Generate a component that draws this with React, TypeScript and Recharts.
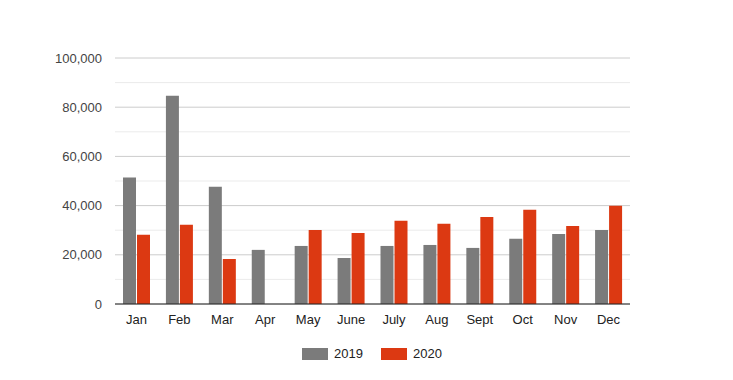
import React from 'react';
import { BarChart, Bar, XAxis, YAxis, CartesianGrid, Legend } from 'recharts';

const months = ['Jan', 'Feb', 'Mar', 'Apr', 'May', 'June', 'July', 'Aug', 'Sept', 'Oct', 'Nov', 'Dec'];
const values2019 = [51400, 84700, 47700, 22000, 23600, 18700, 23600, 24000, 22800, 26500, 28500, 30100];
const values2020 = [28100, 32200, 18300, 0, 30100, 28900, 33800, 32600, 35400, 38300, 31700, 39900];
const majorTicks = [0, 20000, 40000, 60000, 80000, 100000];
const minorTicks = [10000, 30000, 50000, 70000, 90000];

const COLOR_2019 = '#7b7b7b';
const COLOR_2020 = '#dc3912';

const data = months.map((m, i) => ({ month: m, y2019: values2019[i], y2020: values2020[i] }));

const fmt = (v: number) => v.toLocaleString('en-US');

const LegendContent = () => (
  <div style={{ display: 'flex', justifyContent: 'center', paddingLeft: 11, fontFamily: 'Arial, "Liberation Sans", sans-serif', fontSize: 13, color: '#222' }}>
    {[{ label: '2019', color: COLOR_2019 }, { label: '2020', color: COLOR_2020 }].map((it, i) => (
      <div key={it.label} style={{ display: 'flex', alignItems: 'center', marginLeft: i === 0 ? 0 : 18 }}>
        <div style={{ width: 26, height: 12, background: it.color, marginRight: 6 }} />
        <span>{it.label}</span>
      </div>
    ))}
  </div>
);

export default function App() {
  return (
    <div style={{ position: 'absolute', left: 0, top: 0, width: 733, height: 380, background: '#fff' }}>
      <BarChart
        width={733}
        height={380}
        data={data}
        margin={{ top: 58, right: 103, bottom: 24, left: 0 }}
        barGap={1}
        barSize={13}
      >
        <CartesianGrid vertical={false} stroke="#ebebeb" horizontalValues={minorTicks} />
        <CartesianGrid vertical={false} stroke="#cccccc" horizontalValues={majorTicks} />
        <XAxis
          dataKey="month"
          axisLine={{ stroke: '#222222' }}
          tickLine={false}
          tick={{ fill: '#222222', fontSize: 13, fontFamily: 'Arial, "Liberation Sans", sans-serif' }}
          tickMargin={5}
          height={30}
        />
        <YAxis
          width={115}
          domain={[0, 100000]}
          ticks={majorTicks}
          tickFormatter={fmt}
          axisLine={false}
          tickLine={false}
          tickMargin={7}
          tick={{ fill: '#444444', fontSize: 13, fontFamily: 'Arial, "Liberation Sans", sans-serif' }}
        />
        <Legend
          verticalAlign="bottom"
          height={22}
          content={<LegendContent />}
          wrapperStyle={{ left: 0, width: 733, bottom: 12 }}
        />
        <Bar dataKey="y2019" name="2019" fill={COLOR_2019} isAnimationActive={false} />
        <Bar dataKey="y2020" name="2020" fill={COLOR_2020} isAnimationActive={false} />
      </BarChart>
    </div>
  );
}
